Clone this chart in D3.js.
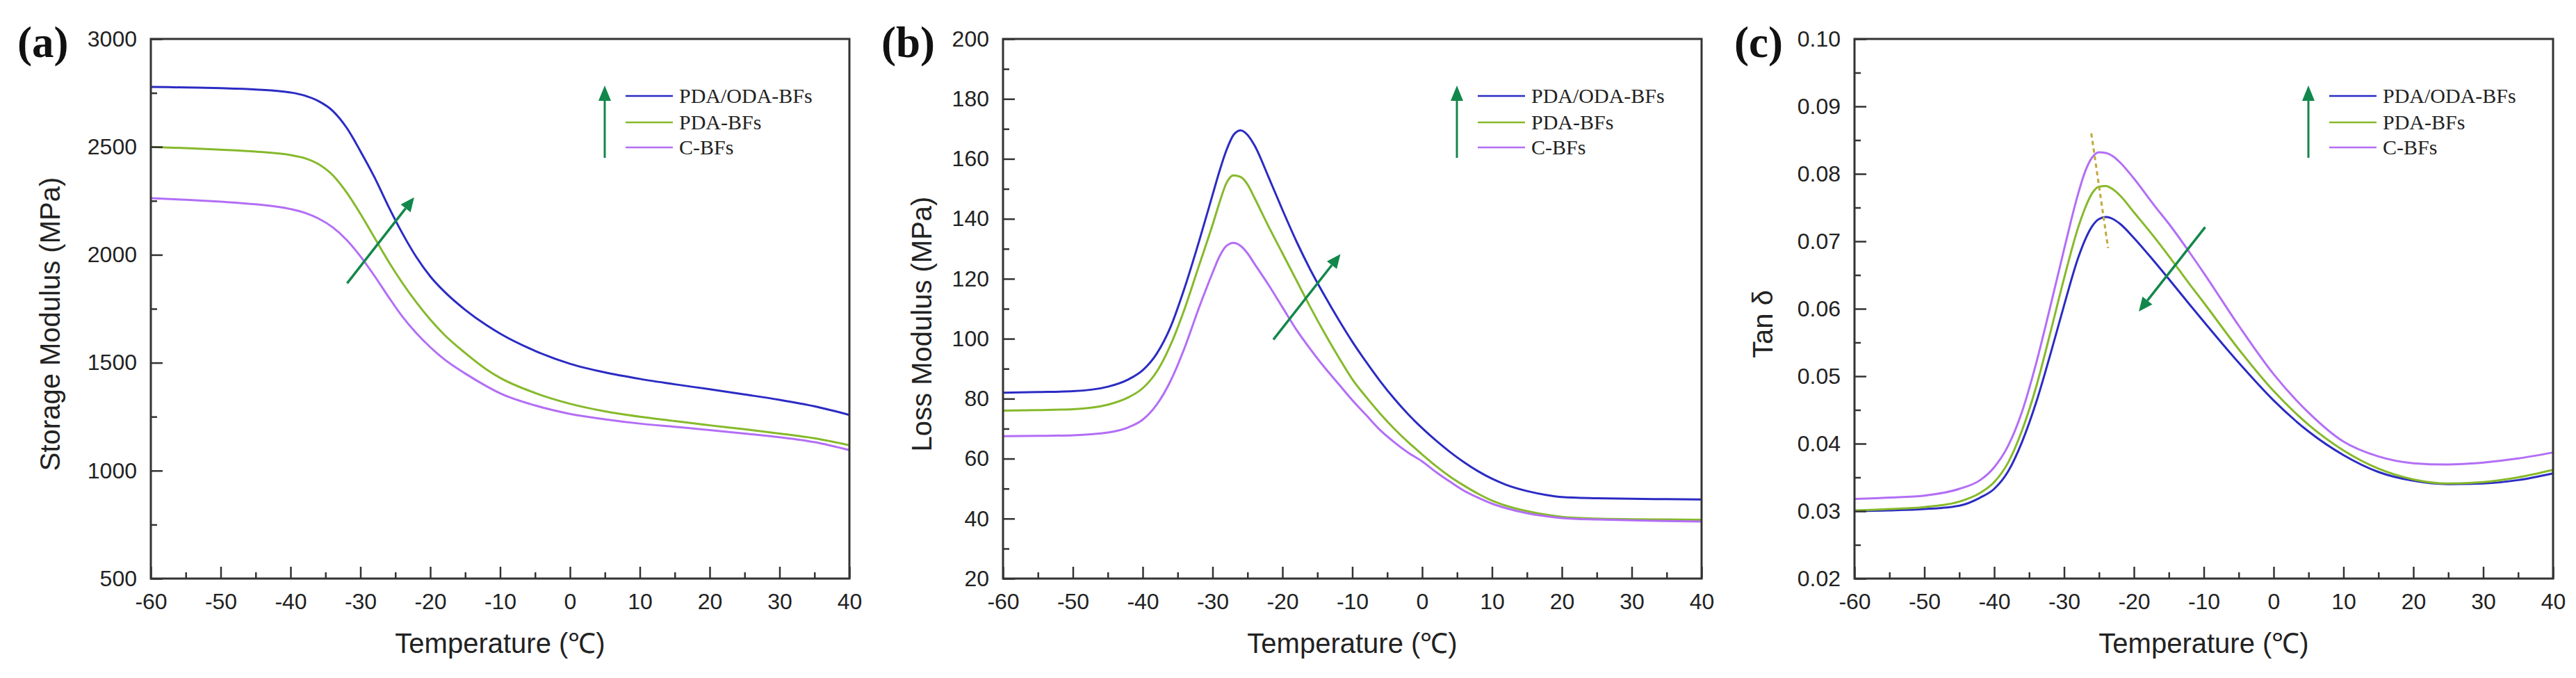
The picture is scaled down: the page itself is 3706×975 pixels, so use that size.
<!DOCTYPE html>
<html>
<head>
<meta charset="utf-8">
<script src="https://cdn.jsdelivr.net/npm/d3@7"></script>
<style>
  body { margin: 0; background: #fff; }
  svg { display: block; }
</style>
</head>
<body>
<script>
const w = 3706;
const h = 975;

// series
const seriesNames = ["PDA/ODA-BFs", "PDA-BFs", "C-BFs"];
const seriesColors = ["#2b2bc4", "#86b92b", "#b36ef5"];

// shared x axis
const xTicks = [-60, -50, -40, -30, -20, -10, 0, 10, 20, 30, 40];
const xMinor = [-55, -45, -35, -25, -15, -5, 5, 15, 25, 35];

// (a) storage modulus
const aTemps = [-60, -55, -50, -45, -40, -38, -36, -34, -32, -30, -28, -26, -24, -22, -20, -18, -15, -12, -10, -5, 0, 5, 10, 15, 20, 25, 30, 35, 40];
const aPdaOda = [2778, 2775, 2772, 2766, 2752, 2738, 2712, 2668, 2590, 2480, 2360, 2225, 2100, 1990, 1900, 1830, 1745, 1675, 1635, 1555, 1495, 1455, 1425, 1400, 1377, 1353, 1328, 1298, 1258];
const aPda = [2500, 2494, 2487, 2478, 2462, 2448, 2420, 2370, 2290, 2190, 2080, 1970, 1870, 1780, 1700, 1630, 1545, 1470, 1430, 1360, 1310, 1275, 1250, 1230, 1210, 1192, 1172, 1150, 1118];
const aC = [2262, 2255, 2246, 2234, 2212, 2195, 2168, 2128, 2070, 1993, 1903, 1806, 1714, 1637, 1572, 1516, 1450, 1392, 1358, 1302, 1263, 1238, 1218, 1203, 1188, 1172, 1155, 1132, 1095];
const aYTicks = [500, 1000, 1500, 2000, 2500, 3000];
const aYMinor = [750, 1250, 1750, 2250, 2750];
const aArrow = [[-31.9, 1868], [-22.3, 2266]];

// (b) loss modulus
const bTemps = [-60, -55, -50, -45, -42, -40, -38, -36, -34, -32, -30, -29, -28, -27, -26, -25, -24, -22, -20, -18, -16, -14, -12, -10, -8, -6, -4, -2, 0, 2, 4, 6, 8, 10, 12, 15, 18, 20, 25, 30, 35, 40];
const bPdaOda = [82, 82.2, 82.5, 84, 86.5, 89.5, 95, 104, 117, 132, 148, 156, 163, 168, 169.5, 168, 164.5, 154, 143, 132.5, 123, 114.5, 106.5, 99, 92.2, 85.8, 80, 74.8, 70.2, 66, 62.2, 58.8, 55.8, 53.3, 51.3, 49.2, 47.8, 47.2, 46.8, 46.6, 46.5, 46.4];
const bPda = [76, 76.2, 76.5, 78, 80.5, 83.5, 89, 98, 110, 124, 138, 145.5, 152, 154.5, 154, 151.5, 147, 137.5, 128.5, 119.5, 110.5, 102, 94, 86.5, 80.5, 75, 70, 65.5, 61.4, 57.5, 54, 51, 48.3, 46, 44.3, 42.5, 41.2, 40.6, 40, 39.8, 39.7, 39.6];
const bC = [67.5, 67.6, 67.8, 68.7, 70.5, 73, 78, 86, 97, 110, 122, 127.5, 131, 132, 131, 128.5, 125, 118, 110.5, 103, 96.5, 90.5, 85, 79.5, 74.5, 69.5, 65.5, 62, 59.1, 55.5, 52.3, 49.3, 47, 45, 43.5, 41.8, 40.7, 40.2, 39.7, 39.4, 39.2, 39];
const bYTicks = [20, 40, 60, 80, 100, 120, 140, 160, 180, 200];
const bYMinor = [30, 50, 70, 90, 110, 130, 150, 170, 190];
const bArrow = [[-21.3, 99.7], [-11.7, 128.2]];

// (c) tan delta
const cTemps = [-60, -55, -50, -45, -42, -40, -38, -36, -34, -32, -30, -28, -27, -26, -25, -24, -23, -22, -20, -17, -15, -12, -10, -5, 0, 5, 10, 15, 20, 25, 30, 35, 40];
const cPdaOda = [0.0300, 0.0301, 0.0303, 0.0308, 0.0320, 0.0333, 0.0359, 0.0403, 0.0461, 0.0531, 0.0605, 0.0675, 0.0702, 0.0722, 0.0733, 0.0736, 0.0733, 0.0726, 0.0705, 0.0669, 0.0644, 0.0606, 0.0581, 0.0520, 0.0464, 0.0418, 0.0383, 0.0358, 0.0345, 0.0340, 0.0341, 0.0346, 0.0356];
const cPda = [0.0301, 0.0303, 0.0306, 0.0314, 0.0327, 0.0343, 0.0372, 0.0420, 0.0484, 0.0563, 0.0645, 0.0720, 0.0749, 0.0771, 0.0781, 0.0782, 0.0777, 0.0768, 0.0743, 0.0705, 0.0678, 0.0636, 0.0609, 0.0540, 0.0478, 0.0428, 0.0390, 0.0363, 0.0347, 0.0341, 0.0343, 0.0350, 0.0361];
const cC = [0.0318, 0.0320, 0.0323, 0.0333, 0.0346, 0.0365, 0.0397, 0.0448, 0.0519, 0.0602, 0.0688, 0.0770, 0.0803, 0.0824, 0.0832, 0.0831, 0.0826, 0.0817, 0.0793, 0.0752, 0.0726, 0.0683, 0.0653, 0.0575, 0.0503, 0.0446, 0.0403, 0.0381, 0.0371, 0.0369, 0.0372, 0.0378, 0.0387];
const cYTicks = [0.02, 0.03, 0.04, 0.05, 0.06, 0.07, 0.08, 0.09, 0.10];
const cYMinor = [0.025, 0.035, 0.045, 0.055, 0.065, 0.075, 0.085, 0.095];
const cArrow = [[-9.8, 0.0721], [-19.3, 0.0596]];
const cDash = [[-26.1, 0.086], [-23.7, 0.069]];

const panels = [
  { tag: "(a)", tagX: 25, ox: 0, temps: aTemps, series: [aPdaOda, aPda, aC], dom: [500, 3000],
    ticks: aYTicks, minor: aYMinor, fmt: d => String(d), title: "Storage Modulus (MPa)", titleX: -145, arrow: aArrow },
  { tag: "(b)", tagX: 42, ox: 1226, temps: bTemps, series: [bPdaOda, bPda, bC], dom: [20, 200],
    ticks: bYTicks, minor: bYMinor, fmt: d => String(d), title: "Loss Modulus (MPa)", titleX: -117, arrow: bArrow },
  { tag: "(c)", tagX: 44, ox: 2451, temps: cTemps, series: [cPdaOda, cPda, cC], dom: [0.02, 0.10],
    ticks: cYTicks, minor: cYMinor, fmt: d3.format(".2f"), title: "Tan \u03b4", titleX: -132, arrow: cArrow, dash: cDash }
];

const plotLeft = 217, plotRight = 1222, plotTop = 56, plotBottom = 832;
const axisColor = "#333";
const arrowColor = "#12874b";
const sans = "'Liberation Sans', Arial, sans-serif";
const serif = "'Liberation Serif', 'Times New Roman', serif";

const svg = d3.select("body").append("svg")
  .attr("width", w)
  .attr("height", h);

svg.append("rect").attr("width", w).attr("height", h).attr("fill", "#fff");

function drawArrow(g, x1, y1, x2, y2, headLen, headW, width) {
  const ang = Math.atan2(y2 - y1, x2 - x1);
  const bx = x2 - headLen * Math.cos(ang), by = y2 - headLen * Math.sin(ang);
  g.append("line")
    .attr("x1", x1).attr("y1", y1).attr("x2", bx).attr("y2", by)
    .attr("stroke", arrowColor).attr("stroke-width", width);
  const px = Math.sin(ang) * headW, py = -Math.cos(ang) * headW;
  g.append("path")
    .attr("d", `M${x2},${y2}L${bx + px},${by + py}L${bx - px},${by - py}Z`)
    .attr("fill", arrowColor);
}

panels.forEach(p => {
  const g = svg.append("g").attr("transform", "translate(" + p.ox + ",0)");

  const x = d3.scaleLinear().domain([-60, 40]).range([plotLeft, plotRight]);
  const y = d3.scaleLinear().domain(p.dom).range([plotBottom, plotTop]);

  // curves
  const line = d3.line()
    .x(d => x(d[0]))
    .y(d => y(d[1]))
    .curve(d3.curveMonotoneX);

  p.series.forEach((vals, i) => {
    g.append("path")
      .datum(p.temps.map((t, j) => [t, vals[j]]))
      .attr("d", line)
      .attr("fill", "none")
      .attr("stroke", seriesColors[i])
      .attr("stroke-width", 3);
  });

  // x axis
  const xa = g.append("g").attr("transform", "translate(0," + plotBottom + ")")
    .call(d3.axisBottom(x).tickValues(xTicks).tickSize(-17).tickPadding(21).tickFormat(d => String(d)));
  const xm = g.append("g").attr("transform", "translate(0," + plotBottom + ")")
    .call(d3.axisBottom(x).tickValues(xMinor).tickSize(-9).tickFormat(""));

  // y axis
  const ya = g.append("g").attr("transform", "translate(" + plotLeft + ",0)")
    .call(d3.axisLeft(y).tickValues(p.ticks).tickSize(-17).tickPadding(20).tickFormat(p.fmt));
  const ym = g.append("g").attr("transform", "translate(" + plotLeft + ",0)")
    .call(d3.axisLeft(y).tickValues(p.minor).tickSize(-9).tickFormat(""));

  [xa, xm, ya, ym].forEach(a => {
    a.select(".domain").remove();
    a.selectAll(".tick line").attr("stroke", axisColor).attr("stroke-width", 2.5);
    a.selectAll(".tick text")
      .attr("fill", "#222")
      .style("font-family", sans)
      .style("font-size", "32px");
  });

  // frame
  g.append("rect")
    .attr("x", plotLeft).attr("y", plotTop)
    .attr("width", plotRight - plotLeft).attr("height", plotBottom - plotTop)
    .attr("fill", "none")
    .attr("stroke", axisColor)
    .attr("stroke-width", 3);

  // titles
  g.append("text")
    .attr("x", (plotLeft + plotRight) / 2).attr("y", 939)
    .attr("text-anchor", "middle")
    .style("font-family", sans).style("font-size", "40px").attr("fill", "#222")
    .text("Temperature (\u2103)");

  g.append("text")
    .attr("transform", "translate(" + (plotLeft + p.titleX) + "," + 466 + ") rotate(-90)")
    .attr("text-anchor", "middle")
    .attr("dy", "0.35em")
    .style("font-family", sans).style("font-size", "40px").attr("fill", "#222")
    .text(p.title);

  g.append("text")
    .attr("x", p.tagX).attr("y", 82)
    .style("font-family", serif).style("font-size", "63px").style("font-weight", "bold")
    .attr("fill", "#111")
    .text(p.tag);

  // legend
  const lg = g.append("g").attr("transform", "translate(" + (plotLeft + 653) + ",0)");
  drawArrow(lg, 0, 227, 0, 123, 22, 9, 3);
  const legY = [138, 176, 212];
  seriesNames.forEach((name, i) => {
    lg.append("line")
      .attr("x1", 30).attr("x2", 98)
      .attr("y1", legY[i]).attr("y2", legY[i])
      .attr("stroke", seriesColors[i]).attr("stroke-width", 2.5);
    lg.append("text")
      .attr("x", 107).attr("y", legY[i] + 10)
      .style("font-family", serif).style("font-size", "30px").attr("fill", "#222")
      .text(name);
  });

  // trend arrow
  drawArrow(g, x(p.arrow[0][0]), y(p.arrow[0][1]), x(p.arrow[1][0]), y(p.arrow[1][1]), 20, 9, 3.5);

  // peak guide (c only)
  if (p.dash) {
    g.append("line")
      .attr("x1", x(p.dash[0][0])).attr("y1", y(p.dash[0][1]))
      .attr("x2", x(p.dash[1][0])).attr("y2", y(p.dash[1][1]))
      .attr("stroke", "#c0a838").attr("stroke-width", 3)
      .attr("stroke-dasharray", "6,5");
  }
});
</script>
</body>
</html>
